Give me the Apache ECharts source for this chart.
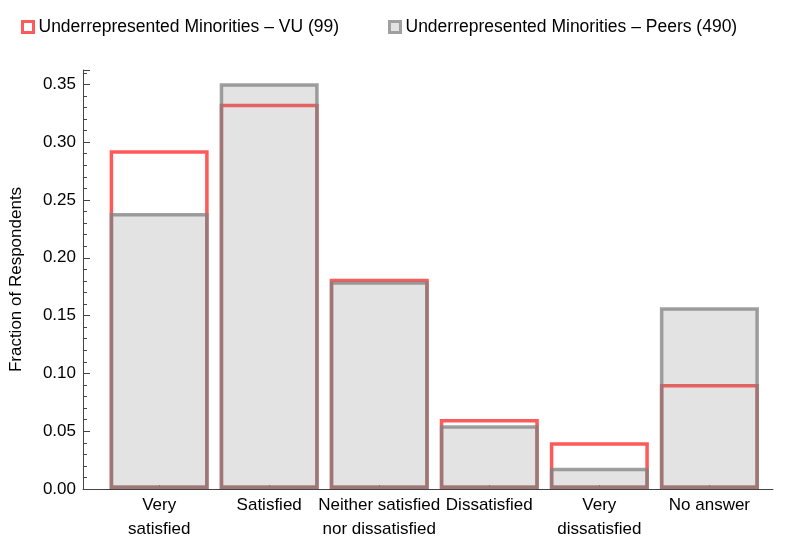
<!DOCTYPE html>
<html>
<head>
<meta charset="utf-8">
<script src="https://cdn.jsdelivr.net/npm/echarts@6/dist/echarts.min.js"></script>
<style>html,body{margin:0;padding:0;background:#fff;}#c{width:785px;height:556px;}</style>
</head>
<body>
<div id="c"></div>
<script>
const categories = ['Very\nsatisfied', 'Satisfied', 'Neither satisfied\nnor dissatisfied', 'Dissatisfied', 'Very\ndissatisfied', 'No answer'];
const seriesNames = ['Underrepresented Minorities – VU (99)', 'Underrepresented Minorities – Peers (490)'];
const vuValues = [0.2929, 0.3333, 0.1818, 0.0606, 0.0404, 0.0909];
const peersValues = [0.2388, 0.3510, 0.1796, 0.0551, 0.0184, 0.1571];
const yTicks = [0, 0.05, 0.10, 0.15, 0.20, 0.25, 0.30, 0.35];

const FONT = '"Liberation Sans", Arial, sans-serif';
const FS = 17;
const LFS = 17.5;
const RED = '#ff5a5a';
const GRAY_FILL = 'rgba(128,128,128,0.22)';
const GRAY_LINE = 'rgba(128,128,128,0.75)';
const AXIS = '#444';
const idx = categories.map((_, i) => i);

const chart = echarts.init(document.getElementById('c'));
chart.setOption({
  animation: false,
  backgroundColor: '#fff',
  textStyle: { fontFamily: FONT },
  legend: [
    { left: 21, top: 18, padding: 0, itemWidth: 11, itemHeight: 11, selectedMode: false,
      textStyle: { fontSize: LFS, color: '#000', fontFamily: FONT },
      data: [{ name: seriesNames[0], icon: 'rect', itemStyle: { color: '#fff', borderColor: RED, borderWidth: 3 } }] },
    { left: 388, top: 18, padding: 0, itemWidth: 11, itemHeight: 11, selectedMode: false,
      textStyle: { fontSize: LFS, color: '#000', fontFamily: FONT },
      data: [{ name: seriesNames[1], icon: 'rect', itemStyle: { color: '#e3e3e3', borderColor: '#a0a0a0', borderWidth: 3 } }] }
  ],
  grid: { left: 82, right: 12, top: 70, bottom: 67, containLabel: false },
  xAxis: {
    type: 'value', min: -0.692, max: 5.578,
    splitLine: { show: false },
    axisLine: { show: true, onZero: false, lineStyle: { color: AXIS, width: 1 } },
    axisTick: { show: true, inside: true, length: 4, customValues: idx, lineStyle: { color: AXIS } },
    axisLabel: { customValues: idx, formatter: v => categories[Math.round(v)], fontSize: FS, color: '#000', fontFamily: FONT, lineHeight: 24, margin: 4 }
  },
  yAxis: {
    type: 'value', min: 0, max: 0.3624, interval: 0.05,
    name: 'Fraction of Respondents', nameLocation: 'middle', nameGap: 58,
    nameTextStyle: { fontSize: FS, color: '#000', fontFamily: FONT },
    splitLine: { show: false },
    axisLine: { show: true, onZero: false, lineStyle: { color: AXIS, width: 1 } },
    axisTick: { show: true, inside: true, length: 7, lineStyle: { color: AXIS } },
    minorTick: { show: true, splitNumber: 5, length: 4, lineStyle: { color: AXIS } },
    axisLabel: { formatter: v => v.toFixed(2), customValues: yTicks, fontSize: FS, color: '#000', fontFamily: FONT, margin: 7 }
  },
  series: [
    { name: seriesNames[0], type: 'bar', barWidth: 99, barGap: '-100%',
      data: vuValues.map((v, i) => [i, v]),
      itemStyle: { color: 'rgba(0,0,0,0)', borderColor: RED, borderWidth: 3.5 },
      emphasis: { disabled: true } },
    { name: seriesNames[1], type: 'bar', barWidth: 99, barGap: '-100%',
      data: peersValues.map((v, i) => [i, v]),
      itemStyle: { color: GRAY_FILL, borderColor: GRAY_LINE, borderWidth: 3.5 },
      emphasis: { disabled: true } }
  ]
});
</script>
</body>
</html>
